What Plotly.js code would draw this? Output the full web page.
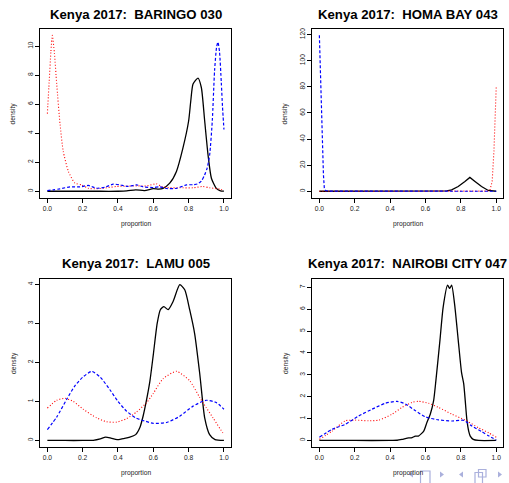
<!DOCTYPE html>
<html>
<head>
<meta charset="utf-8">
<script src="https://cdn.plot.ly/plotly-3.0.1.min.js"></script>
<style>
  html, body { margin: 0; padding: 0; background: #fff; }
  #plot { width: 509px; height: 483px; }
</style>
</head>
<body>
<div id="plot"></div>
<script>
// Kernel density estimates of three vote proportions for four Kenyan polling stations (2017).

const xTicks = [0, 0.2, 0.4, 0.6, 0.8, 1.0];

// ---- BARINGO 030 ----
const baringoBlackX = [0, 0.1, 0.2, 0.3, 0.4, 0.45, 0.5, 0.55, 0.6, 0.63, 0.655, 0.693, 0.731, 0.768, 0.8, 0.812, 0.825, 0.853, 0.872, 0.891, 0.91, 0.929, 0.957, 0.98, 1.0];
const baringoBlackY = [0, 0, 0, 0, 0, 0.02, 0.1, 0.05, 0.18, 0.15, 0.2, 0.56, 1.37, 2.99, 4.84, 6.2, 7.39, 7.8, 7.15, 4.84, 2.5, 0.9, 0.2, 0.03, 0.01];
const baringoBlueX = [0, 0.035, 0.072, 0.128, 0.185, 0.232, 0.279, 0.326, 0.373, 0.41, 0.458, 0.505, 0.543, 0.6, 0.637, 0.674, 0.731, 0.788, 0.825, 0.85, 0.872, 0.89, 0.905, 0.919, 0.934, 0.947, 0.958, 0.966, 0.975, 0.985, 0.992, 1.0];
const baringoBlueY = [0.05, 0.1, 0.17, 0.3, 0.3, 0.4, 0.21, 0.28, 0.49, 0.44, 0.33, 0.44, 0.3, 0.26, 0.3, 0.19, 0.2, 0.44, 0.45, 0.5, 0.7, 1.1, 1.6, 2.5, 4.84, 8.3, 9.9, 10.28, 9.6, 7.5, 5.8, 4.26];
const baringoRedX = [0, 0.01, 0.02, 0.028, 0.04, 0.053, 0.072, 0.09, 0.119, 0.156, 0.194, 0.232, 0.279, 0.335, 0.392, 0.449, 0.505, 0.562, 0.618, 0.646, 0.693, 0.75, 0.825, 0.881, 0.919, 0.976, 1.0];
const baringoRedY = [5.35, 7.5, 9.6, 10.74, 9.5, 7.39, 4.6, 2.75, 1.37, 0.56, 0.44, 0.2, 0.17, 0.24, 0.33, 0.35, 0.37, 0.37, 0.51, 0.33, 0.24, 0.24, 0.24, 0.33, 0.24, 0.15, 0.05];

// ---- HOMA BAY 043 ----
const homaBlackX = [0, 0.2, 0.4, 0.6, 0.7, 0.72, 0.748, 0.785, 0.823, 0.851, 0.88, 0.917, 0.955, 0.98, 1.0];
const homaBlackY = [0, 0, 0, 0, 0.05, 0.3, 1.0, 3.6, 7.5, 10.6, 7.5, 3.6, 0.6, 0.1, 0];
const homaBlueX = [0, 0.004, 0.008, 0.013, 0.019, 0.023, 0.028, 0.035, 0.05, 0.2, 0.4, 0.6, 0.8, 1.0];
const homaBlueY = [119.5, 100, 79.5, 53.8, 28, 12.7, 2.3, 0.6, 0.1, 0, 0, 0, 0, 0];
const homaRedX = [0, 0.2, 0.4, 0.6, 0.8, 0.9, 0.95, 0.964, 0.977, 0.987, 0.993, 1.0];
const homaRedY = [0, 0, 0, 0, 0, 0, 0.1, 0.6, 7.5, 30.7, 56, 80];

// ---- LAMU 005 ----
const lamuBlackX = [0, 0.1, 0.2, 0.26, 0.3, 0.33, 0.36, 0.395, 0.43, 0.467, 0.5, 0.524, 0.542, 0.56, 0.58, 0.6, 0.622, 0.64, 0.66, 0.684, 0.712, 0.75, 0.778, 0.806, 0.834, 0.863, 0.891, 0.919, 0.95, 1.0];
const lamuBlackY = [0, 0, 0, 0.005, 0.04, 0.085, 0.06, 0.02, 0.05, 0.085, 0.15, 0.33, 0.62, 1.0, 1.5, 2.2, 3.0, 3.35, 3.43, 3.35, 3.56, 3.99, 3.86, 3.35, 2.74, 1.71, 0.58, 0.15, 0.02, 0];
const lamuBlueX = [0, 0.053, 0.11, 0.156, 0.2, 0.251, 0.3, 0.354, 0.4, 0.449, 0.5, 0.55, 0.6, 0.674, 0.75, 0.825, 0.9, 0.957, 1.0];
const lamuBlueY = [0.28, 0.6, 1.06, 1.4, 1.62, 1.77, 1.62, 1.3, 1.0, 0.75, 0.58, 0.5, 0.44, 0.46, 0.62, 0.88, 1.03, 0.97, 0.8];
const lamuRedX = [0, 0.053, 0.1, 0.147, 0.203, 0.279, 0.335, 0.392, 0.449, 0.505, 0.562, 0.599, 0.655, 0.731, 0.806, 0.863, 0.9, 0.938, 0.994, 1.0];
const lamuRedY = [0.83, 1.03, 1.08, 1.0, 0.8, 0.58, 0.48, 0.47, 0.56, 0.73, 0.97, 1.2, 1.58, 1.77, 1.53, 1.1, 0.84, 0.58, 0.2, 0.19];

// ---- NAIROBI CITY 047 ----
const nairobiBlackX = [0, 0.2, 0.4, 0.44, 0.467, 0.505, 0.52, 0.543, 0.56, 0.59, 0.608, 0.627, 0.646, 0.659, 0.682, 0.7, 0.725, 0.737, 0.748, 0.765, 0.785, 0.804, 0.816, 0.825, 0.834, 0.845, 0.853, 0.87, 0.9, 1.0];
const nairobiBlackY = [0, 0, 0, 0.01, 0.05, 0.12, 0.12, 0.2, 0.2, 0.43, 0.82, 1.2, 1.82, 2.75, 4.6, 6.1, 7.1, 6.95, 7.1, 6.2, 4.6, 3.1, 2.6, 1.8, 0.95, 0.4, 0.2, 0.05, 0, 0];
const nairobiBlueX = [0, 0.072, 0.147, 0.222, 0.298, 0.373, 0.439, 0.486, 0.543, 0.599, 0.674, 0.75, 0.816, 0.863, 0.919, 0.96, 1.0];
const nairobiBlueY = [0.15, 0.51, 0.74, 1.12, 1.43, 1.7, 1.79, 1.67, 1.36, 1.08, 0.94, 0.89, 0.92, 0.66, 0.4, 0.2, 0.02];
const nairobiRedX = [0, 0.072, 0.147, 0.203, 0.279, 0.335, 0.411, 0.467, 0.524, 0.561, 0.618, 0.674, 0.75, 0.825, 0.9, 0.957, 1.0];
const nairobiRedY = [0.05, 0.43, 0.9, 0.93, 0.9, 0.93, 1.2, 1.51, 1.74, 1.79, 1.7, 1.51, 1.2, 0.93, 0.58, 0.35, 0.15];

// Panel definitions
const panels = [
  { title: 'Kenya 2017:\u00a0 BARINGO 030', yMax: 10.75, yTicks: [0, 2, 4, 6, 8, 10],
    black: [baringoBlackX, baringoBlackY], blue: [baringoBlueX, baringoBlueY], red: [baringoRedX, baringoRedY], sharp: false },
  { title: 'Kenya 2017:\u00a0 HOMA BAY 043', yMax: 119.5, yTicks: [0, 20, 40, 60, 80, 100, 120],
    black: [homaBlackX, homaBlackY], blue: [homaBlueX, homaBlueY], red: [homaRedX, homaRedY], sharp: true },
  { title: 'Kenya 2017:\u00a0 LAMU 005', yMax: 3.99, yTicks: [0, 1, 2, 3, 4],
    black: [lamuBlackX, lamuBlackY], blue: [lamuBlueX, lamuBlueY], red: [lamuRedX, lamuRedY], sharp: false },
  { title: 'Kenya 2017:\u00a0 NAIROBI CITY 047', yMax: 7.12, yTicks: [0, 1, 2, 3, 4, 5, 6, 7],
    black: [nairobiBlackX, nairobiBlackY], blue: [nairobiBlueX, nairobiBlueY], red: [nairobiRedX, nairobiRedY], sharp: false }
];

const W = 509, H = 483;
const px = v => v / W;
const py = v => 1 - v / H;

// plot boxes in pixels: [left, right, top, bottom]
const boxes = [
  [40.3, 231.0, 29.0, 197.5],
  [312.3, 503.3, 29.0, 197.5],
  [40.3, 231.0, 278.5, 446.7],
  [312.3, 503.3, 278.5, 446.7]
];

const FONT = 'Liberation Sans, Arial, Helvetica, sans-serif';
const traces = [];
const layout = {
  width: W, height: H,
  margin: { l: 0, r: 0, t: 0, b: 0 },
  paper_bgcolor: '#fff', plot_bgcolor: '#fff',
  showlegend: false,
  font: { family: FONT, color: '#000' },
  annotations: [],
  shapes: []
};

panels.forEach((p, i) => {
  const n = i + 1;
  const xa = 'x' + (n === 1 ? '' : n), ya = 'y' + (n === 1 ? '' : n);
  const b = boxes[i];
  const shape = p.sharp ? 'linear' : 'spline';
  const line = (color, dash, width) => ({ color, dash, width, shape, smoothing: 0.6 });
  traces.push({ type: 'scatter', mode: 'lines', x: p.black[0], y: p.black[1], xaxis: xa, yaxis: ya, line: line('#000000', 'solid', 1.3), hoverinfo: 'skip' });
  traces.push({ type: 'scatter', mode: 'lines', x: p.red[0], y: p.red[1], xaxis: xa, yaxis: ya, line: line('#ff0000', '1px,2px', 1.1), hoverinfo: 'skip' });
  traces.push({ type: 'scatter', mode: 'lines', x: p.blue[0], y: p.blue[1], xaxis: xa, yaxis: ya, line: line('#0000ff', '3px,2px', 1.2), hoverinfo: 'skip' });

  const common = {
    showline: true, mirror: true, linecolor: '#000', linewidth: 1,
    ticks: 'outside', ticklen: 4, tickwidth: 1, tickcolor: '#000',
    showgrid: false, zeroline: false, fixedrange: true,
    tickfont: { family: FONT, size: 6.7, color: '#222' }
  };
  layout['xaxis' + (n === 1 ? '' : n)] = Object.assign({}, common, {
    domain: [px(b[0]), px(b[1])], anchor: ya,
    range: [-0.04, 1.04], tickmode: 'array', tickvals: xTicks, tickformat: '.1f'
  });
  layout['yaxis' + (n === 1 ? '' : n)] = Object.assign({}, common, {
    domain: [py(b[3]), py(b[2])], anchor: xa,
    range: [-0.04 * p.yMax, 1.04 * p.yMax], tickmode: 'array', tickvals: p.yTicks, tickangle: -90
  });

  const cx = (b[0] + b[1]) / 2;
  layout.annotations.push({ text: '<b>' + p.title + '</b>', xref: 'paper', yref: 'paper', x: px(cx), y: py(b[2] - 15), xanchor: 'center', yanchor: 'middle', showarrow: false, font: { family: FONT, size: 13.2, color: '#000' } });
  layout.annotations.push({ text: 'proportion', xref: 'paper', yref: 'paper', x: px(cx), y: py(b[3] + 26.5), xanchor: 'center', yanchor: 'middle', showarrow: false, font: { family: FONT, size: 6.7, color: '#222' } });
  layout.annotations.push({ text: 'density', xref: 'paper', yref: 'paper', x: px(b[0] - 27), y: py((b[2] + b[3]) / 2), xanchor: 'center', yanchor: 'middle', textangle: -90, showarrow: false, font: { family: FONT, size: 6.7, color: '#222' } });
});

// navigation symbols in the bottom-right corner
const navColor = '#aab0dc';
const tri = (x0, x1, yt, yb, left) => {
  const ym = (yt + yb) / 2;
  const d = left
    ? `M ${px(x1)} ${py(yt)} L ${px(x0)} ${py(ym)} L ${px(x1)} ${py(yb)} Z`
    : `M ${px(x0)} ${py(yt)} L ${px(x1)} ${py(ym)} L ${px(x0)} ${py(yb)} Z`;
  return { type: 'path', xref: 'paper', yref: 'paper', path: d, fillcolor: navColor, line: { width: 0 } };
};
const box = (x0, x1, y0, y1) => ({ type: 'rect', xref: 'paper', yref: 'paper', x0: px(x0), x1: px(x1), y0: py(y1), y1: py(y0), fillcolor: 'rgba(0,0,0,0)', line: { color: navColor, width: 1.2 } });
layout.shapes.push(
  tri(409, 413, 471.5, 477.5, true),
  box(420.5, 430, 471, 484),
  tri(440, 444, 471.5, 477.5, false),
  tri(459, 463, 471.5, 477.5, true),
  box(478.5, 486, 469.5, 477),
  box(475, 482.5, 472.5, 484),
  tri(498, 502, 471.5, 477.5, false)
);

Plotly.newPlot('plot', traces, layout, { displayModeBar: false, staticPlot: true });
</script>
</body>
</html>
